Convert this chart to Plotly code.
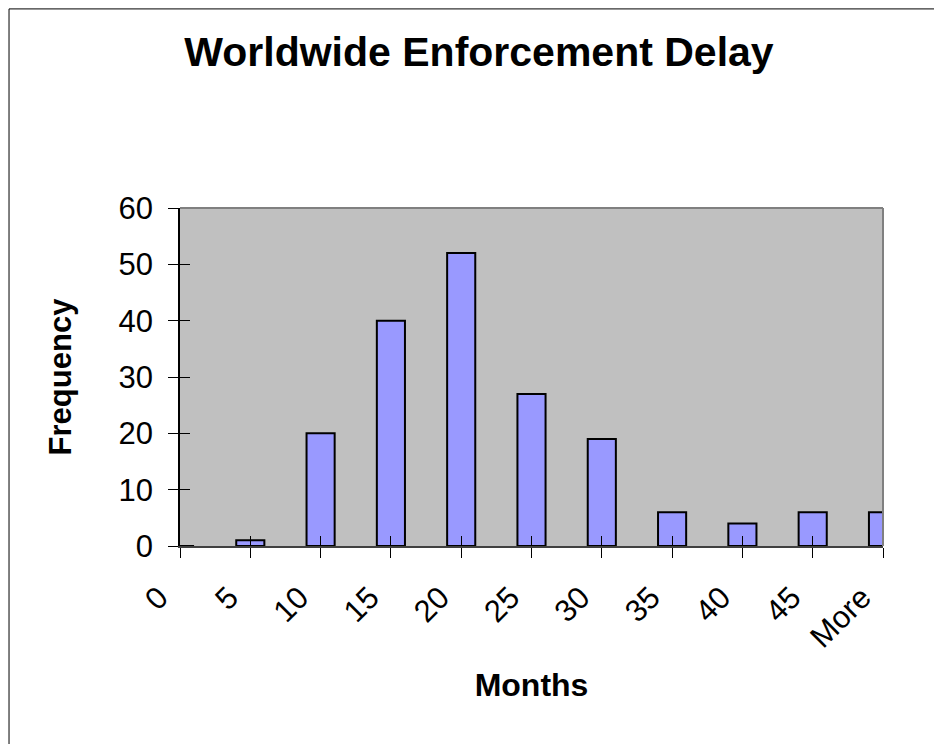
import plotly.graph_objects as go

# ---------------- DATA ----------------
months = ["0", "5", "10", "15", "20", "25", "30", "35", "40", "45", "More"]
frequency = [0, 1, 20, 40, 52, 27, 19, 6, 4, 6, 6]

FONT = "Liberation Sans, Arial, sans-serif"

fig = go.Figure()
fig.add_trace(go.Bar(
    x=months, y=frequency, width=0.4,
    marker=dict(color="#9999FF", line=dict(color="black", width=2)),
    showlegend=False,
))
# invisible helper trace so the overlay axes (inside ticks) get drawn
fig.add_trace(go.Scatter(
    x=months, y=frequency, xaxis="x2", yaxis="y2",
    mode="markers", marker=dict(opacity=0), hoverinfo="skip", showlegend=False,
))

fig.update_layout(
    width=942, height=744,
    paper_bgcolor="white", plot_bgcolor="#C0C0C0",
    margin=dict(l=172, r=67, t=200, b=206),
    font=dict(family=FONT, color="black", size=31),
    title=dict(
        text="<b>Worldwide Enforcement Delay</b>",
        font=dict(size=41, family=FONT, color="black"),
        x=0.5, xref="container", xanchor="center",
        y=0.941, yref="container", yanchor="middle",
    ),
    xaxis=dict(
        type="category", range=[0, 10],
        tickangle=-45, ticks="outside", ticklen=10, tickcolor="black",
        tickfont=dict(size=31),
        ticklabelstandoff=9, ticklabelshift=-21,
        showline=True, linecolor="#404040", linewidth=2,
        showgrid=False, zeroline=False,
        title=dict(text="<b>Months</b>", font=dict(size=32), standoff=20),
    ),
    xaxis2=dict(
        type="category", range=[0, 10], overlaying="x", matches="x",
        ticks="inside", ticklen=10, tickcolor="black",
        showticklabels=False, showline=False, showgrid=False, zeroline=False,
    ),
    yaxis=dict(
        range=[0, 60], dtick=10,
        ticks="outside", ticklen=10, tickcolor="black",
        showline=True, linecolor="black", linewidth=1.5,
        showgrid=False, zeroline=False, ticklabelstandoff=9,
        title=dict(text="<b>Frequency</b>", font=dict(size=31), standoff=38),
    ),
    yaxis2=dict(
        range=[0, 60], dtick=10, overlaying="y", matches="y",
        ticks="inside", ticklen=10, tickcolor="black",
        showticklabels=False, showline=False, showgrid=False, zeroline=False,
    ),
    shapes=[
        # gray top and right border of the plot area
        dict(type="line", xref="paper", yref="paper", x0=0, x1=1, y0=1, y1=1,
             line=dict(color="#808080", width=2)),
        dict(type="line", xref="paper", yref="paper", x0=1, x1=1, y0=0, y1=1,
             line=dict(color="#808080", width=2)),
        # outer chart frame
        dict(type="rect", xref="paper", yref="paper",
             x0=-0.2432, x1=1.2, y0=-0.7, y1=1.589,
             line=dict(color="black", width=1)),
    ],
)

fig.write_html("out.html")
